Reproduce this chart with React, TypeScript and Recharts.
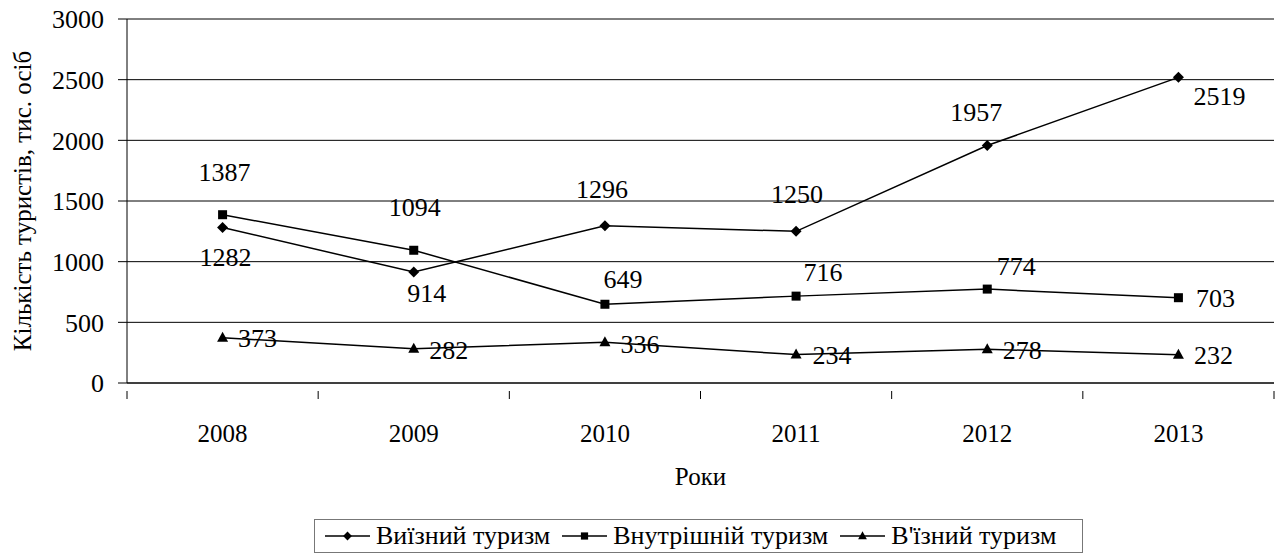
import { LineChart, Line, XAxis, YAxis, CartesianGrid, Legend, LabelList } from "recharts";

// Years on the category axis
const years = ["2008", "2009", "2010", "2011", "2012", "2013"];

// Series values, thousand people
const outbound = [1282, 914, 1296, 1250, 1957, 2519];
const domestic = [1387, 1094, 649, 716, 774, 703];
const inbound = [373, 282, 336, 234, 278, 232];

const yTicks = [0, 500, 1000, 1500, 2000, 2500, 3000];

const seriesNames = {
  outbound: "Виїзний туризм",
  domestic: "Внутрішній туризм",
  inbound: "В'їзний туризм",
};

// where each value label sits relative to its point [dx, dy]
const outboundLabelPos = [[3, 30], [13, 21], [-3, -36], [1, -37], [-11, -33], [41, 19]];
const domesticLabelPos = [[2, -42], [1, -43], [18, -25], [27, -24], [29, -23], [37, 1]];
const inboundLabelPos = [[35, 1], [35, 2], [35, 2], [36, 1], [35, 1], [35, 1]];

const FONT = "Liberation Serif, Tinos, Times New Roman, DejaVu Serif, Noto Serif, serif";

const chartData = years.map((year, i) => ({
  year,
  outbound: outbound[i],
  domestic: domestic[i],
  inbound: inbound[i],
}));

type MarkerKind = "diamond" | "square" | "triangle";

function Marker({ kind, cx, cy, s = 1 }: { kind: MarkerKind; cx: number; cy: number; s?: number }) {
  if (kind === "diamond") {
    const r = 5.5 * s;
    return <polygon points={`${cx},${cy - r} ${cx + r},${cy} ${cx},${cy + r} ${cx - r},${cy}`} fill="#000" />;
  }
  if (kind === "square") {
    const h = 4.5 * s;
    return <rect x={cx - h} y={cy - h} width={2 * h} height={2 * h} fill="#000" />;
  }
  return <polygon points={`${cx},${cy - 6 * s} ${cx + 5.5 * s},${cy + 4 * s} ${cx - 5.5 * s},${cy + 4 * s}`} fill="#000" />;
}

const makeDot = (kind: MarkerKind) => (props: any) => {
  const { cx, cy, index } = props;
  if (cx == null || cy == null) return <g key={`d-${index}`} />;
  return <Marker key={`d-${kind}-${index}`} kind={kind} cx={cx} cy={cy} />;
};

const makeLabel = (pos: number[][]) => (props: any) => {
  const { x, y, value, index } = props;
  const [dx, dy] = pos[index] || [0, -20];
  return (
    <text
      x={x + dx}
      y={y + dy}
      textAnchor="middle"
      dominantBaseline="central"
      style={{ fontFamily: FONT, fontSize: 26 }}
      fill="#000"
    >
      {value}
    </text>
  );
};

// Excel-style category axis: ticks between categories, labels in the middle
const YearTick = (props: any) => {
  const { x, y, payload, index, visibleTicksCount } = props;
  const half = payload.offset || 0;
  const last = index === visibleTicksCount - 1;
  return (
    <g>
      <line x1={x - half} y1={y} x2={x - half} y2={y + 8} stroke="#000" />
      {last && <line x1={x + half} y1={y} x2={x + half} y2={y + 8} stroke="#000" />}
      <text x={x} y={y + 42} textAnchor="middle" dominantBaseline="central" style={{ fontFamily: FONT, fontSize: 25 }} fill="#000">
        {payload.value}
      </text>
    </g>
  );
};

const legendItems: { name: string; kind: MarkerKind }[] = [
  { name: seriesNames.outbound, kind: "diamond" },
  { name: seriesNames.domestic, kind: "square" },
  { name: seriesNames.inbound, kind: "triangle" },
];

const LegendBox = () => (
  <div
    style={{
      boxSizing: "border-box",
      width: "100%",
      height: "100%",
      border: "1px solid #777",
      display: "flex",
      alignItems: "center",
      paddingLeft: 10,
      gap: 12,
      fontFamily: FONT,
      fontSize: 26,
      color: "#000",
      whiteSpace: "nowrap",
    }}
  >
    {legendItems.map((item) => (
      <div key={item.name} style={{ display: "flex", alignItems: "center" }}>
        <svg width={45} height={14} style={{ marginRight: 6 }}>
          <line x1={0} y1={7} x2={45} y2={7} stroke="#000" strokeWidth={1.5} />
          <Marker kind={item.kind} cx={22.5} cy={7} s={0.8} />
        </svg>
        <span>{item.name}</span>
      </div>
    ))}
  </div>
);

export default function App() {
  return (
    <div style={{ position: "absolute", left: 0, top: 0, width: 1281, height: 558, background: "#fff" }}>
      <LineChart width={1281} height={558} data={chartData} margin={{ top: 19, right: 7, left: 0, bottom: 65 }}>
        <CartesianGrid vertical={false} stroke="#000" strokeWidth={1} />
        <XAxis
          dataKey="year"
          scale="band"
          height={110}
          axisLine={{ stroke: "#000" }}
          tickLine={false}
          tick={<YearTick />}
          interval={0}
          label={(p: any) => {
            const vb = p.viewBox;
            return (
              <text x={vb.x + vb.width / 2} y={476} textAnchor="middle" dominantBaseline="central" style={{ fontFamily: FONT, fontSize: 25 }} fill="#000">
                Роки
              </text>
            );
          }}
        />
        <XAxis xAxisId="top" orientation="top" dataKey="year" height={0} tick={false} tickLine={false} axisLine={{ stroke: "#888" }} />
        <YAxis
          width={127}
          domain={[0, 3000]}
          ticks={yTicks}
          interval={0}
          axisLine={{ stroke: "#000" }}
          tickLine={{ stroke: "#000" }}
          tickSize={9}
          tickMargin={14}
          tick={{ fill: "#000", fontSize: 26, fontFamily: FONT }}
          label={(p: any) => {
            const vb = p.viewBox;
            const cy = vb.y + vb.height / 2;
            return (
              <text
                x={22}
                y={cy}
                transform={`rotate(-90, 22, ${cy})`}
                textAnchor="middle"
                dominantBaseline="central"
                style={{ fontFamily: FONT, fontSize: 25 }}
                fill="#000"
              >
                Кількість туристів, тис. осіб
              </text>
            );
          }}
        />
        <YAxis yAxisId="right" orientation="right" width={0} domain={[0, 3000]} tick={false} tickLine={false} axisLine={{ stroke: "#888" }} />
        <Line
          dataKey="outbound"
          name={seriesNames.outbound}
          stroke="#000"
          strokeWidth={1.5}
          dot={makeDot("diamond")}
          activeDot={false}
          isAnimationActive={false}
        >
          <LabelList dataKey="outbound" content={makeLabel(outboundLabelPos)} />
        </Line>
        <Line
          dataKey="domestic"
          name={seriesNames.domestic}
          stroke="#000"
          strokeWidth={1.5}
          dot={makeDot("square")}
          activeDot={false}
          isAnimationActive={false}
        >
          <LabelList dataKey="domestic" content={makeLabel(domesticLabelPos)} />
        </Line>
        <Line
          dataKey="inbound"
          name={seriesNames.inbound}
          stroke="#000"
          strokeWidth={1.5}
          dot={makeDot("triangle")}
          activeDot={false}
          isAnimationActive={false}
        >
          <LabelList dataKey="inbound" content={makeLabel(inboundLabelPos)} />
        </Line>
        <Legend
          layout="horizontal"
          verticalAlign="middle"
          align="center"
          content={<LegendBox />}
          wrapperStyle={{ left: 314, top: 519, width: 769, height: 34 }}
        />
      </LineChart>
    </div>
  );
}
